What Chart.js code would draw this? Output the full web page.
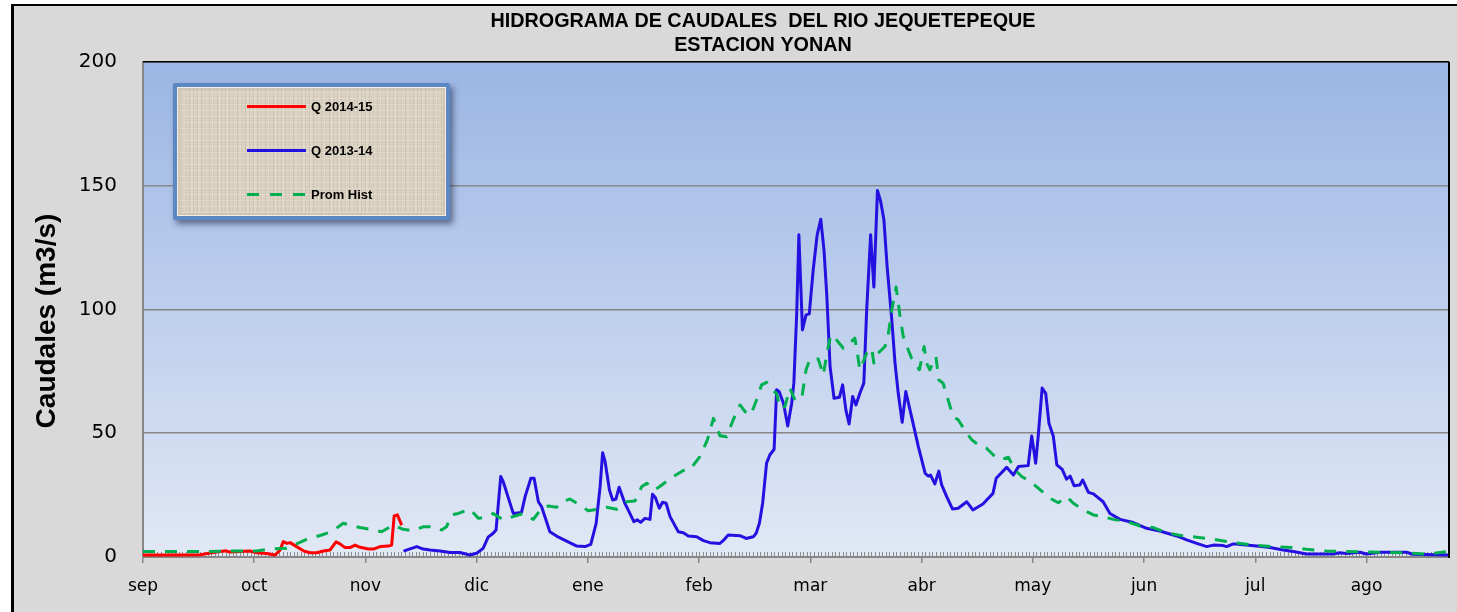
<!DOCTYPE html>
<html>
<head>
<meta charset="utf-8">
<script src="https://cdn.jsdelivr.net/npm/chart.js@4.4.1/dist/chart.umd.min.js"></script>
<style>
html,body{margin:0;padding:0;width:100%;height:100%;overflow:hidden;background:#d9d9d9;scrollbar-width:none;}
::-webkit-scrollbar{width:0;height:0;display:none;}
#top{position:absolute;left:0;top:0;width:100%;height:4px;background:#ffffff;}
#leftw{position:absolute;left:0;top:0;width:11px;height:100%;background:#ffffff;}
#frame{position:absolute;left:11px;top:4px;width:1560px;height:680px;border-left:3px solid #000;border-top:2px solid #000;background:#d9d9d9;}
#c{position:absolute;left:0;top:0;}
#legend{position:absolute;left:159px;top:77px;width:269px;height:129px;border:4px solid #5b87c2;border-radius:2px;
  box-shadow:inset 0 0 0 1px #f3efe6, inset 0 0 0 3px #cfc5b2, 3px 4px 6px rgba(20,30,60,0.55);
  background:
   repeating-linear-gradient(0deg, rgba(255,255,255,0.22) 0 1px, rgba(0,0,0,0) 1px 3px),
   repeating-linear-gradient(90deg, rgba(110,95,70,0.12) 0 1px, rgba(0,0,0,0) 1px 4px),
   repeating-linear-gradient(0deg, rgba(120,105,80,0.10) 0 1px, rgba(0,0,0,0) 1px 6px),
   repeating-linear-gradient(90deg, rgba(255,255,255,0.12) 0 2px, rgba(0,0,0,0) 2px 7px),
   #d9d0bf;}
.lrow{position:absolute;left:0;height:16px;}
.lsample{position:absolute;left:70px;top:6px;width:59px;height:3px;}
.ltext{position:absolute;left:134px;top:0;font:bold 13px 'Liberation Sans', Arial, sans-serif;color:#000;line-height:16px;white-space:nowrap;}
</style>
</head>
<body>
<div id="top"></div>
<div id="leftw"></div>
<div id="frame">
  <canvas id="c" width="1498" height="606"></canvas>
  <div id="legend"></div>
</div>
<script>
// ---- categories / ticks ----
const monthLabels = ['sep','oct','nov','dic','ene','feb','mar','abr','may','jun','jul','ago'];
const monthStartDay = [0,31,62,93,124,155,186,217,248,279,310,341];
const yTicks = [0,50,100,150,200];

// ---- Q 2014-15 (day of hydrological year from 1 sep, m3/s) ----
const dayQ1415 = [0,8,16,19.1,23.1,24.2,29.8,31.7,34.5,36.8,
  38.2,39.1,40.1,41,42.8,44.7,46.5,48.4,50.3,52.1,
  53.8,54.9,56.3,57.7,59.1,60.5,62.8,64.2,66.1,68.4,
  69.3,70,70.9,72.1];
const valQ1415 = [0.8,0.8,0.9,1.7,2.5,2,2.4,1.7,1.4,0.8,
  2.8,6.2,5.5,5.8,4.2,2.5,1.7,1.7,2.4,2.8,
  6.1,5.3,3.8,3.8,4.8,3.9,3.2,3.2,4.2,4.4,
  4.8,16.6,17,12.9];

// ---- Q 2013-14 ----
const dayQ1314 = [72.6,76.3,78.1,80,82.8,85.6,88.3,91.1,93,94.8,
  96.2,97.6,98.4,99.7,100.4,103.2,105.5,106.5,108.1,109,
  110.2,111.1,113.4,115.8,120.9,123.2,124.8,126.3,127.4,128.1,
  128.8,130,130.9,131.8,132.7,134.3,135.7,136.8,137.8,138.7,
  139.9,141.3,142,142.8,143.9,144.8,145.8,146.9,149.2,150.6,
  152,154.3,156.2,158,160.8,161.7,163.1,166.4,168.1,170.1,
  170.9,171.8,172.7,173.8,174.7,175.9,176.6,177.3,178.5,179.7,
  180.8,181.4,182.2,182.8,183.8,184.8,185.7,186.8,187.9,188.9,
  189.8,190.6,191.5,192.6,194.1,195,195.9,196.8,197.8,198.7,
  199.8,200.9,201.7,202.8,203.7,204.7,205.6,206.5,207.4,208.7,
  209.6,210.5,211.6,212.6,214.2,216.1,218,218.9,219.5,220.7,
  221.8,222.6,224,225.6,227.2,229.6,231.3,234.1,236.9,237.8,
  240.7,242.6,244,246.7,247.7,248.8,249.5,250.6,251.6,252.5,
  253.7,254.7,256.2,257.4,258.4,259.5,261.1,261.9,263.5,264.9,
  267.6,269.5,272.3,276,279.7,283.4,288.1,290.9,293.7,296.5,
  298.3,301.1,302,303.9,306.7,310.4,314.1,317.8,320.6,324.3,
  331.7,333.5,335.5,339.2,341,344.8,352.2,353.9,363.4,364];
const valQ1314 = [2.4,4.2,3.2,2.8,2.4,1.8,1.8,0.8,1.5,3.5,
  8,9.6,10.9,32.5,30.4,17.6,18,24.4,31.8,31.8,
  22.3,20.3,10.2,8,4.4,4.2,5.1,13.6,28.4,42.1,
  38.5,27.1,23,23.4,28.2,21.7,17.6,14.3,15,14,
  15.6,15.2,25.3,24,19.7,22.1,21.7,16.3,10.2,9.8,
  8.5,8.2,6.6,5.8,5.5,6.6,8.9,8.6,7.5,8.2,
  9.6,13.6,21.7,37.9,41.2,43.5,67.5,66.8,62.1,52.9,
  62.1,70.2,98.5,130.1,91.7,97.8,98.2,116,130.1,136.4,
  124,105.2,76.9,64.1,64.5,69.5,59.4,53.7,64.8,61.4,
  66.1,70.2,99.8,130.1,109,148,143.6,136.2,117.3,95.8,
  78.3,66.1,54.4,66.8,56.7,44.6,33.8,32.7,33.1,29.5,
  34.7,29.1,24.4,19.4,19.7,22.3,19,21.4,25.7,31.8,
  36.2,33.1,36.5,36.9,48.9,37.9,48.6,68.2,66.1,54,
  48.9,37.2,35.4,31.4,32.7,28.8,29.1,31.1,26.1,25.5,
  22.3,17.6,15.2,13.9,11.6,10.5,8.5,6.9,5.5,4.2,
  4.8,4.6,4.2,5.3,4.9,4.4,3.8,2.8,2.2,1.2,
  1.2,1.7,1.4,1.9,1.2,1.9,1.9,1.1,0.8,0.8];

// ---- Prom Hist ----
const dayProm = [0,17.8,22.4,31.7,35.4,40,42.8,45.6,49.8,52.6,
  55.8,60.5,63.3,66.5,69.8,72.5,75.3,78.1,81.4,83.2,
  84.6,86,87.9,91.1,93.5,96.2,97.6,100.4,106,108.8,
  111.1,113,115.3,116.7,119,121.8,124.1,126.9,129.2,132,
  134.8,137.1,139,140.4,142.7,144.6,147.8,150.6,152.5,155.2,
  157.3,159,160.8,162.7,164.5,166.4,167.8,169.4,171,172.4,
  173.8,175.2,176.6,177.5,178.9,180.3,181.7,183.6,184.8,185.9,
  188.2,189.6,190.7,191.7,193.3,195.2,197,198.4,199.1,199.8,
  201.7,203.1,203.7,204.9,206.8,207.7,208.7,209.9,211,211.9,
  213.3,214.2,216.4,217.7,218.4,219.3,221,221.8,223,224.4,
  225.8,227.2,229.6,231,233.3,235.1,237,238.9,241.2,243,
  244.9,247.7,249.5,252.8,255.1,257.4,259.3,262.1,264.9,267.6,
  270.4,274.2,277.9,281.6,285.3,289.9,293.7,298.3,303.9,309.4,
  315,320.6,324.3,329.8,335.5,344.8,352.2,357.7,363.4,364];
const valProm = [2.2,2.2,2.4,2.4,3.2,3.5,5.3,7.1,8.9,10.2,
  13.6,11.9,11.2,10.2,12.9,11.2,10.6,12.2,12.2,10.9,
  12.2,17,17.6,19.3,15.6,16.3,17.6,15,17.6,15.2,
  19.7,20.6,20.1,22.3,23.4,21,18.7,19.3,20.1,19.3,
  22.3,22.6,28.4,29.8,27.1,29.1,32.5,34.9,35.4,40.5,
  47.3,56,49,48.6,55.4,61.4,58.7,57.4,63.4,69.5,
  70.5,67.5,66.1,60.1,60.7,68.2,63.4,64.1,75.6,79.9,
  80,73.5,82.9,89.7,87.7,84.3,86.3,88.4,82.3,75.6,
  82.3,84.3,78.3,82.3,85,89.7,99.8,109,97.1,89,
  83.6,80.3,75.6,85,78.3,75.6,80.9,71.5,70.2,63.4,
  56.7,55.4,50,47.3,44.8,43.9,41.2,39.2,40.3,35.2,
  32.5,30,27.8,23.7,21.9,24.4,21.7,19,17,16.3,
  15.2,14.3,12.5,11.9,9.8,8.5,8,7.2,5.8,4.8,
  4.2,3.8,3.1,2.4,2.2,1.9,1.7,1.1,2.2,2.2];

const toXY = (xs, ys) => xs.map((x, i) => ({x: x, y: ys[i]}));

const plotBackground = {
  id: 'plotBackground',
  beforeDraw(chart) {
    const {ctx, chartArea: a} = chart;
    const g = ctx.createLinearGradient(0, a.top, 0, a.bottom);
    g.addColorStop(0, '#9bb6e4');
    g.addColorStop(1, '#e1e8f5');
    ctx.save();
    ctx.fillStyle = g;
    ctx.fillRect(a.left, a.top, a.right - a.left, a.bottom - a.top);
    ctx.restore();
  },
  afterDraw(chart) {
    const {ctx, chartArea: a} = chart;
    ctx.save();
    ctx.strokeStyle = '#000';
    ctx.lineWidth = 1.5;
    ctx.beginPath();
    ctx.moveTo(a.left, a.top); ctx.lineTo(a.right, a.top);
    ctx.stroke();
    ctx.lineWidth = 2;
    ctx.beginPath();
    ctx.moveTo(a.right, a.top); ctx.lineTo(a.right, a.bottom + 1);
    ctx.stroke();
    ctx.restore();
  }
};

const minorTicks = {
  id: 'minorTicks',
  beforeDatasetsDraw(chart) {
    const {ctx, chartArea: a, scales: {x}} = chart;
    ctx.save();
    ctx.strokeStyle = '#8c8c8c';
    ctx.lineWidth = 1;
    ctx.beginPath();
    for (let d = 0; d <= 364; d++) {
      const px = Math.round(x.getPixelForValue(d)) + 0.5;
      ctx.moveTo(px, a.bottom - 5);
      ctx.lineTo(px, a.bottom - 1);
    }
    ctx.stroke();
    ctx.restore();
  }
};

const chart = new Chart(document.getElementById('c'), {
  type: 'line',
  data: {
    datasets: [
      {label: 'Q 2014-15', data: toXY(dayQ1415, valQ1415), borderColor: '#ff0000', backgroundColor: '#ff0000', borderWidth: 3, order: 1},
      {label: 'Q 2013-14', data: toXY(dayQ1314, valQ1314), borderColor: '#2410e0', backgroundColor: '#2410e0', borderWidth: 3, order: 2},
      {label: 'Prom Hist', data: toXY(dayProm, valProm), borderColor: '#00b050', backgroundColor: '#00b050', borderWidth: 3, borderDash: [12, 10], order: 0}
    ]
  },
  options: {
    responsive: false,
    animation: false,
    devicePixelRatio: 1,
    layout: {padding: 0},
    elements: {point: {radius: 0, hoverRadius: 0}, line: {tension: 0, borderJoinStyle: 'round'}},
    plugins: {
      legend: {display: false},
      tooltip: {enabled: false},
      title: {
        display: true,
        text: ['HIDROGRAMA DE CAUDALES  DEL RIO JEQUETEPEQUE', 'ESTACION YONAN'],
        color: '#000',
        font: {family: "'Liberation Sans', Arial, sans-serif", size: 19.8, weight: 'bold', lineHeight: 1.18},
        padding: {top: 4, bottom: 5}
      }
    },
    scales: {
      x: {
        type: 'linear', min: 0, max: 364,
        afterBuildTicks(scale) { scale.ticks = monthStartDay.map(v => ({value: v})); },
        afterFit(scale) { scale.height = 55; },
        ticks: {
          autoSkip: false, maxRotation: 0, minRotation: 0, padding: 13, color: '#000',
          font: {family: "'DejaVu Sans', Verdana, sans-serif", size: 17},
          callback: (v) => { const i = monthStartDay.indexOf(v); return i >= 0 ? monthLabels[i] : ''; }
        },
        grid: {drawOnChartArea: false, drawTicks: true, tickLength: 6, color: '#878787', lineWidth: 1.5},
        border: {color: '#878787', width: 2}
      },
      y: {
        min: 0, max: 200,
        afterBuildTicks(scale) { scale.ticks = yTicks.map(v => ({value: v})); },
        afterFit(scale) { scale.width = 129; },
        ticks: {padding: 26, color: '#000', font: {family: "'DejaVu Sans', Verdana, sans-serif", size: 20}},
        grid: {color: '#878787', lineWidth: 1.5, drawTicks: false},
        border: {color: '#878787', width: 2},
        title: {
          display: true,
          text: 'Caudales (m3/s)\u00a0\u00a0\u00a0',
          color: '#000',
          font: {family: "'Liberation Sans', Arial, sans-serif", size: 28, weight: 'bold'},
          padding: {top: 16, bottom: 0}
        }
      },
      yRight: {
        position: 'right', display: true,
        grid: {display: false}, border: {display: false}, ticks: {display: false},
        afterFit(scale) { scale.width = 63; }
      }
    }
  },
  plugins: [plotBackground, minorTicks]
});

// HTML legend built from the chart's datasets
const legendEl = document.getElementById('legend');
const rowCenters = [24, 68, 112];
chart.data.datasets.forEach((ds, i) => {
  const row = document.createElement('div');
  row.className = 'lrow';
  row.style.top = (rowCenters[i] - 4 - 8) + 'px';
  row.style.width = '100%';
  const s = document.createElement('div');
  s.className = 'lsample';
  if (ds.borderDash) {
    s.style.background = 'repeating-linear-gradient(90deg,' + ds.borderColor + ' 0 12px, rgba(0,0,0,0) 12px 23px)';
  } else {
    s.style.background = ds.borderColor;
  }
  const t = document.createElement('span');
  t.className = 'ltext';
  t.textContent = ds.label;
  row.appendChild(s);
  row.appendChild(t);
  legendEl.appendChild(row);
});
</script>
</body>
</html>
